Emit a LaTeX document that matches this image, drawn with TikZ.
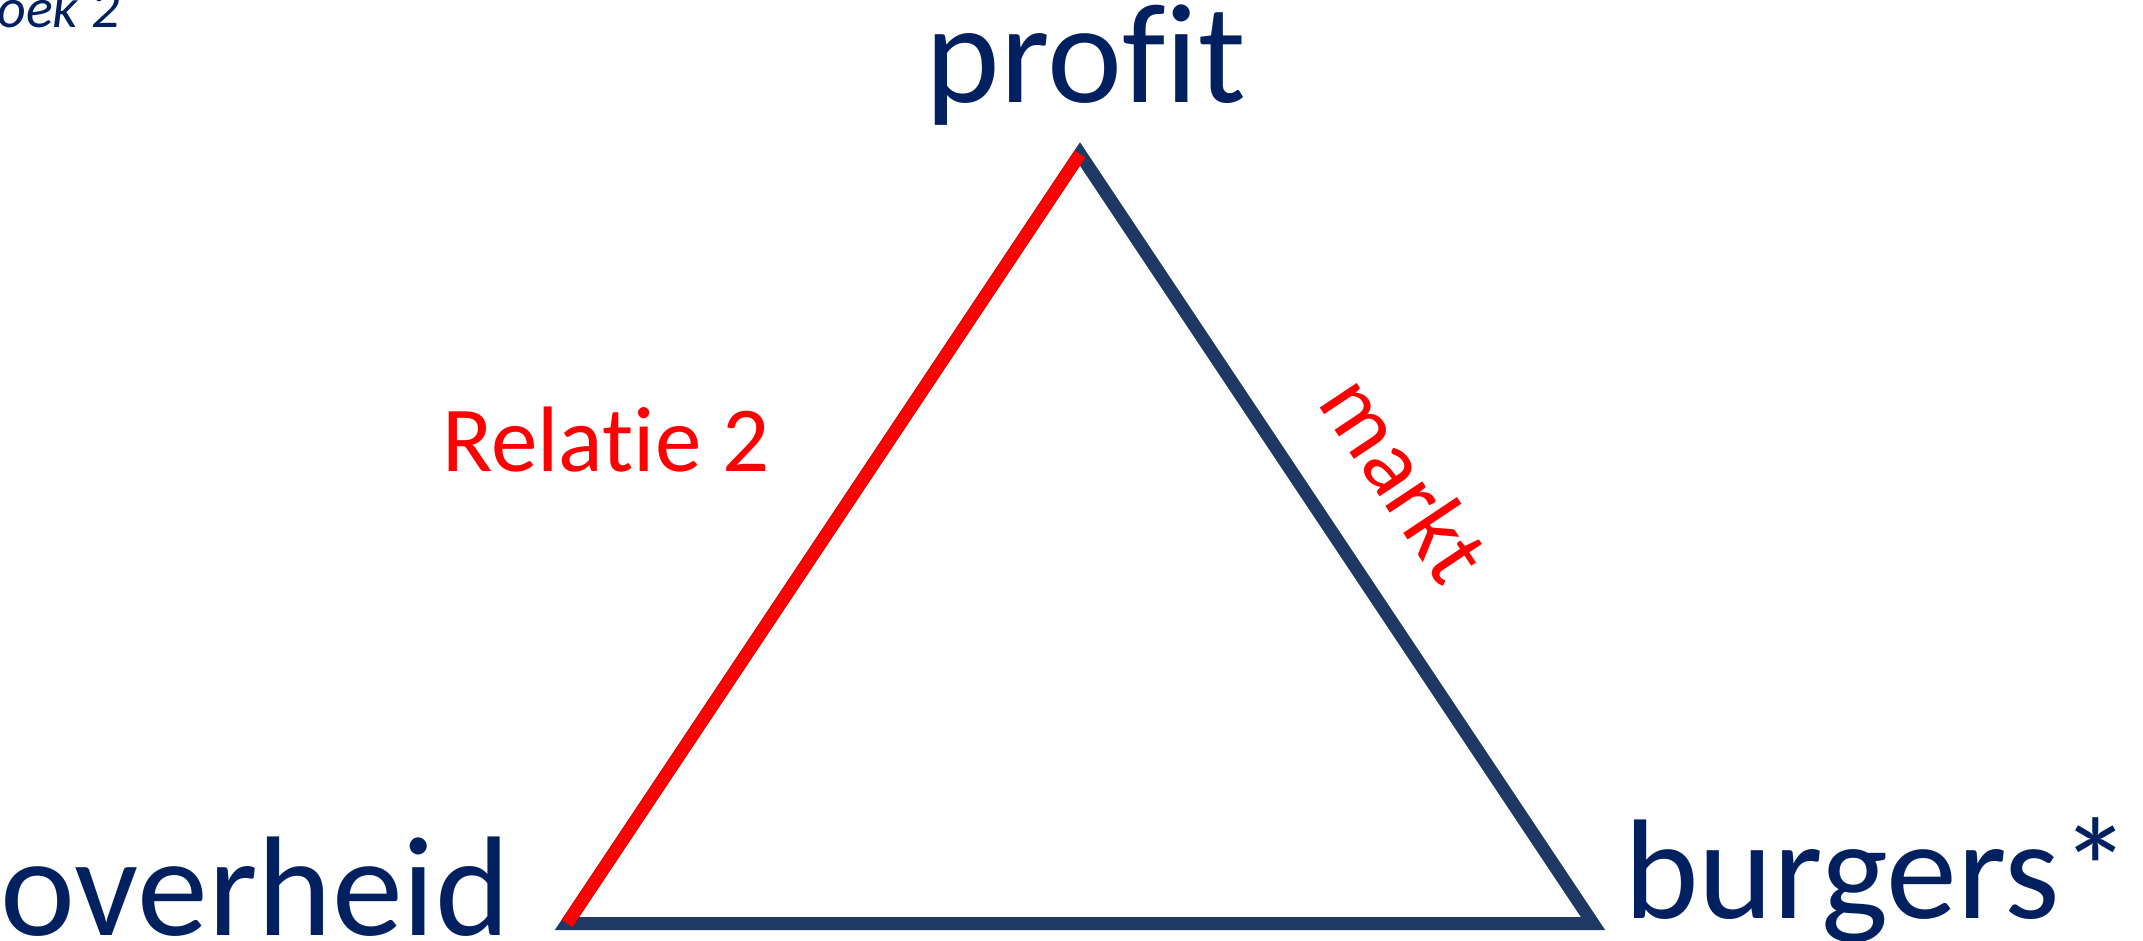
\documentclass[tikz,border=0pt]{standalone}
\usepackage{fontspec}
\setmainfont[Ligatures={NoCommon,NoRare}]{Carlito}
\usepackage{tikz}
\usetikzlibrary{positioning}

\definecolor{tekstblauw}{HTML}{002060}
\definecolor{lijnblauw}{HTML}{1F3864}

\tikzset{
  hoek/.style={inner sep=0pt, text=tekstblauw, font=\fontsize{71}{85}\selectfont},
  rood/.style={inner sep=0pt, text=red, font=\fontsize{46.5}{56}\selectfont},
  zijde/.style={draw=lijnblauw, line width=6.5pt},
  relatielijn/.style={draw=red, line width=6.5pt}
}

\begin{document}
\begin{tikzpicture}[x=0.5pt, y=-0.5pt]
  \useasboundingbox (0,0) rectangle (2143,941);

  % Titel (afgesneden)
  \node[inner sep=0pt, anchor=base west, text=tekstblauw, font=\fontsize{28}{34}\selectfont\itshape] (boek) at (-3,28) {oek 2};

  % Hoeken
  \node[hoek, anchor=base] (profit) at (1086,103) {profit};
  \node[hoek, anchor=base west] (overheid) at (0,935) {overheid};
  \node[hoek, anchor=base west] (burgers) at (1624,918) {burgers*};

  % Driehoek
  \coordinate (top) at (1080,154);
  \coordinate (links) at (567,923.5);
  \coordinate (rechts) at (1593,923.5);
  \draw[zijde] (top) -- node[rood, sloped, above=26pt, pos=0.487] (markt) {markt} (rechts) -- (links) -- cycle;
  \draw[relatielijn] (top) -- (links);

  % Relatie
  \node[rood, anchor=base west] (relatie) at (442,471) {Relatie 2};
\end{tikzpicture}
\end{document}
